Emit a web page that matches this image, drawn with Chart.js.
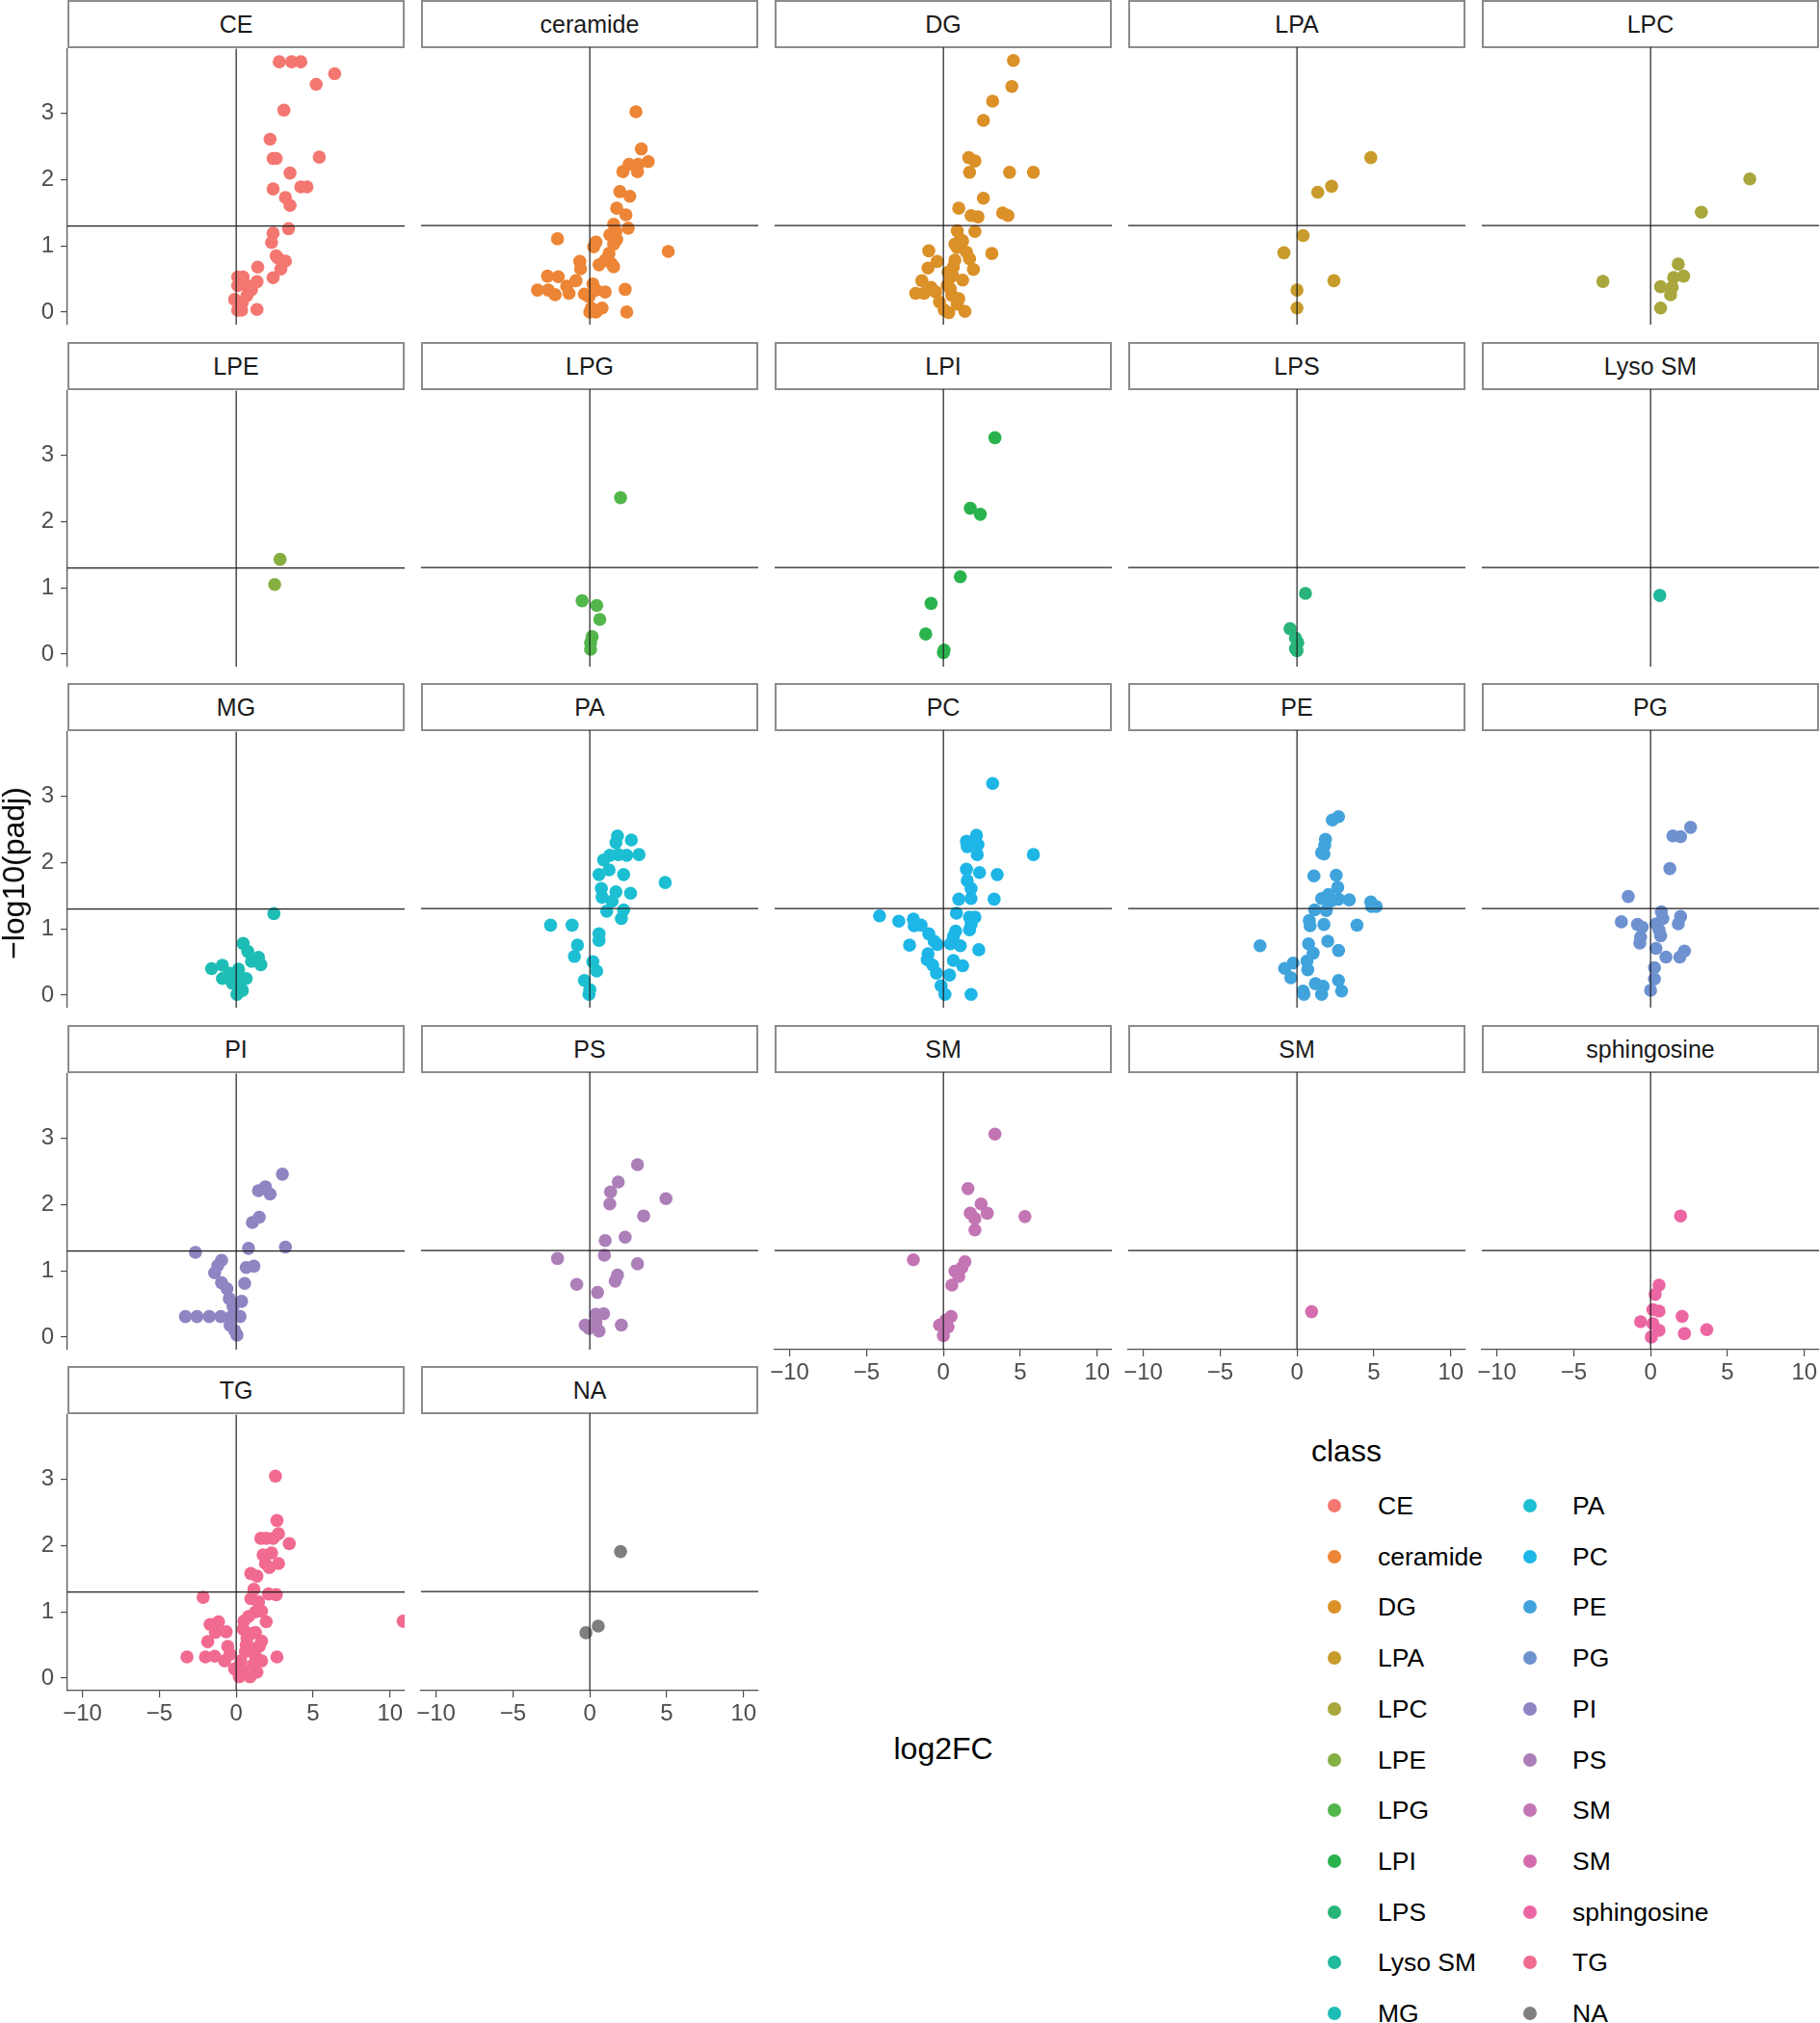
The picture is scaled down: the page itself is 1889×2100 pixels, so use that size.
<!DOCTYPE html>
<html>
<head>
<meta charset="utf-8">
<script src="https://cdn.jsdelivr.net/npm/chart.js@4.4.0/dist/chart.umd.min.js"></script>
<style>
  body { margin: 0; background: #fff; width: 1889px; height: 2100px; position: relative; overflow: hidden;
         font-family: "Liberation Sans", Arial, Helvetica, sans-serif; }
  canvas { position: absolute; }
  .strip { position: absolute; box-sizing: border-box; border: 2px solid #8c8c8c; background: #fff;
           display: flex; align-items: center; justify-content: center; font-size: 25px; color: #1a1a1a; }
  .title { position: absolute; font-size: 32px; color: #000; white-space: nowrap; }
  .lg-dot { position: absolute; width: 14px; height: 14px; border-radius: 50%; }
  .lg-txt { position: absolute; font-size: 26.5px; color: #000; white-space: nowrap; line-height: 30px; }
</style>
</head>
<body>
<script>
// facet / legend categories (order of the factor levels)
const classes = ['CE', 'ceramide', 'DG', 'LPA', 'LPC', 'LPE', 'LPG', 'LPI', 'LPS', 'Lyso SM', 'MG',
                 'PA', 'PC', 'PE', 'PG', 'PI', 'PS', 'SM', 'SM ', 'sphingosine', 'TG', 'NA'];
const classColors = ['#F37770', '#EC8535', '#DB9028', '#C89B2C', '#A8A63C', '#86AF42', '#52B64A', '#2AB34D',
                     '#29B57A', '#21B99C', '#1DBDB5', '#1CBFD2', '#1DB6E6', '#41A3DC', '#6E91CF', '#8D86C2',
                     '#AC7FB9', '#C275B2', '#D56CAE', '#EC66A3', '#F16A90', '#7F7F7F'];
const xTicks = [-10, -5, 0, 5, 10];
const yTicks = [0, 1, 2, 3];
const padjLine = 1.3;   // -log10(0.05)

// [log2FC, -log10(padj)] per class
const ptsCE = [[2.8,3.78],[3.6,3.78],[4.2,3.78],[6.4,3.6],[5.2,3.44],[3.1,3.05],[2.2,2.61],[2.4,2.32],[2.6,2.32],[5.4,2.34],
  [3.5,2.1],[2.4,1.86],[4.2,1.89],[4.6,1.89],[3.2,1.73],[3.5,1.61],[3.4,1.26],[2.4,1.19],[2.3,1.05],[2.6,0.85],[3.2,0.77],
  [2.9,0.65],[1.4,0.68],[2.4,0.52],[1.35,0.46],[0.1,0.53],[0.45,0.53],[0.1,0.4],[0.7,0.4],[1.0,0.34],[0.7,0.25],[-0.1,0.19],
  [0.4,0.15],[0.1,0.03],[0.35,0.03],[1.35,0.04],[0.2,0.1],[2.7,0.82]];
const ptsCeramide = [[3.0,3.01],[3.35,2.45],[2.55,2.22],[3.15,2.22],[3.8,2.26],[2.15,2.11],[3.1,2.11],[1.95,1.81],[2.6,1.74],
  [1.75,1.56],[2.35,1.46],[1.55,1.32],[2.5,1.26],[1.7,1.21],[1.3,1.16],[1.75,1.09],[-2.1,1.1],[0.4,1.05],[0.25,0.98],[1.55,1.02],
  [5.1,0.91],[1.25,0.88],[1.0,0.78],[1.4,0.73],[-0.65,0.76],[-0.6,0.65],[0.6,0.71],[1.55,0.68],[-2.75,0.54],[-2.05,0.53],
  [-3.4,0.33],[-2.7,0.33],[-2.25,0.26],[-1.5,0.39],[-1.35,0.28],[-0.9,0.47],[-0.35,0.27],[0.2,0.42],[0.4,0.33],[1.0,0.3],
  [2.3,0.34],[-0.05,0.23],[0.1,0.06],[0.8,0.06],[0.4,0.0],[2.4,0.0],[0.0,0.0]];
const ptsDG = [[4.55,3.78],[4.45,3.39],[3.2,3.17],[2.6,2.88],[1.65,2.32],[2.05,2.27],[1.7,2.1],[4.3,2.1],[5.85,2.1],[2.6,1.71],
  [1.0,1.56],[1.8,1.45],[2.25,1.43],[3.85,1.49],[4.2,1.45],[0.9,1.22],[2.05,1.21],[1.25,1.07],[0.9,0.97],[1.5,0.9],[3.15,0.88],
  [-0.95,0.92],[-0.4,0.76],[-1.0,0.66],[0.75,0.78],[1.7,0.8],[1.95,0.64],[1.25,0.48],[0.45,0.52],[-1.4,0.47],[-0.8,0.37],
  [-1.8,0.28],[-1.25,0.28],[-0.5,0.3],[0.45,0.35],[1.0,0.2],[-0.25,0.15],[0.05,0.03],[0.35,-0.01],[1.4,0.01],[0.65,0.68],
  [0.75,1.02],[1.1,1.09],[0.25,0.4],[0.55,0.25],[0.3,0.6],[0.6,0.55],[0.9,0.12]];
const ptsLPA = [[4.8,2.32],[2.25,1.89],[1.35,1.8],[0.4,1.15],[-0.85,0.89],[2.4,0.47],[0.0,0.33],[0.0,0.06]];
const ptsLPC = [[6.45,2.0],[3.3,1.5],[1.8,0.72],[2.15,0.54],[1.5,0.52],[-3.1,0.46],[0.65,0.38],[1.4,0.37],[1.3,0.26],[0.65,0.06]];
const ptsLPE = [[2.85,1.43],[2.5,1.05]];
const ptsLPG = [[2.0,2.35],[-0.5,0.8],[0.45,0.73],[0.65,0.52],[0.15,0.26],[0.05,0.17],[0.05,0.07]];
const ptsLPI = [[3.35,3.25],[1.75,2.19],[2.4,2.1],[1.1,1.16],[-0.8,0.76],[-1.15,0.3],[0.05,0.06],[0.0,0.02]];
const ptsLPS = [[0.55,0.91],[-0.45,0.38],[-0.1,0.24],[0.05,0.17],[-0.1,0.08],[0.0,0.05]];
const ptsLysoSM = [[0.6,0.88]];
const ptsMG = [[2.45,1.23],[0.45,0.78],[0.75,0.66],[1.45,0.57],[1.0,0.51],[1.6,0.46],[-1.6,0.4],[-0.9,0.45],[-0.9,0.25],
  [-0.55,0.28],[0.15,0.39],[0.65,0.25],[0.0,0.23],[0.2,0.14],[0.4,0.07],[0.05,0.01],[-0.25,0.18],[-0.4,0.33]];
const ptsPA = [[1.8,2.39],[1.7,2.29],[2.7,2.33],[1.3,2.1],[1.85,2.11],[2.4,2.1],[3.2,2.11],[0.9,2.03],[1.25,1.88],[0.6,1.81],
  [2.2,1.81],[4.9,1.69],[0.75,1.6],[1.7,1.55],[2.65,1.53],[0.8,1.47],[1.45,1.41],[1.1,1.26],[2.2,1.28],[2.05,1.15],
  [-2.55,1.05],[-1.15,1.05],[0.6,0.92],[0.6,0.82],[-0.8,0.75],[-1.0,0.58],[0.2,0.5],[0.45,0.36],[-0.35,0.22],[0.0,0.08],[-0.05,0.01]];
const ptsPC = [[3.2,3.18],[5.85,2.11],[2.15,2.4],[1.5,2.31],[2.25,2.26],[1.55,2.23],[2.2,2.11],[1.5,1.89],[2.35,1.84],[3.5,1.81],
  [1.55,1.72],[1.8,1.6],[1.0,1.44],[1.8,1.45],[3.3,1.44],[0.85,1.23],[1.7,1.17],[2.05,1.17],[1.8,1.06],[1.7,0.98],[-4.15,1.19],
  [-2.9,1.11],[-1.95,1.14],[-1.9,1.04],[-1.45,1.05],[-0.95,0.92],[-0.6,0.81],[-0.4,0.76],[-2.2,0.75],[0.8,0.96],[0.65,0.88],
  [0.45,0.77],[1.1,0.74],[2.3,0.68],[-1.0,0.62],[-1.05,0.53],[-0.7,0.45],[-0.45,0.33],[0.65,0.52],[1.25,0.44],[0.4,0.3],
  [-0.15,0.14],[0.1,0.01],[1.8,0.01]];
const ptsPE = [[2.7,2.68],[2.3,2.63],[1.85,2.34],[1.8,2.25],[1.6,2.14],[1.75,2.12],[1.1,1.79],[2.55,1.8],[2.65,1.62],[1.6,1.45],
  [2.05,1.51],[2.7,1.44],[3.4,1.43],[2.2,1.41],[4.8,1.4],[4.85,1.33],[5.15,1.33],[1.15,1.28],[1.9,1.27],[0.8,1.12],[0.85,1.04],
  [1.75,1.06],[3.9,1.05],[2.0,0.81],[-2.4,0.74],[0.75,0.77],[1.05,0.63],[2.7,0.67],[-0.25,0.48],[0.65,0.51],[-0.8,0.4],
  [0.7,0.38],[-0.4,0.26],[1.2,0.17],[1.7,0.13],[2.7,0.22],[2.9,0.06],[0.4,0.06],[1.6,0.01],[0.45,0.01]];
const ptsPG = [[2.6,2.52],[1.45,2.39],[1.95,2.38],[1.25,1.9],[-1.45,1.48],[0.7,1.25],[1.95,1.18],[0.8,1.15],[-1.9,1.1],
  [-0.85,1.06],[-0.55,1.02],[1.8,1.07],[0.35,1.07],[0.55,0.98],[-0.65,0.87],[0.65,0.89],[-0.7,0.78],[0.35,0.7],[2.2,0.66],
  [1.9,0.57],[1.0,0.57],[0.25,0.41],[0.25,0.24],[0.0,0.07]];
const ptsPI = [[3.0,2.46],[1.45,2.21],[1.9,2.27],[2.2,2.16],[1.05,1.73],[1.5,1.81],[0.8,1.34],[3.2,1.36],[-2.65,1.28],
  [-0.95,1.16],[-1.2,1.08],[-1.4,0.97],[0.65,1.05],[1.15,1.07],[0.55,0.81],[-0.95,0.82],[-0.6,0.73],[-0.45,0.58],[0.35,0.54],
  [-0.2,0.46],[-3.3,0.31],[-2.55,0.31],[-1.75,0.31],[-1.0,0.31],[-0.3,0.31],[0.25,0.31],[-0.4,0.18],[0.05,0.03],[-0.1,0.1]];
const ptsPS = [[3.1,2.59],[1.85,2.33],[1.35,2.18],[4.95,2.08],[1.3,2.0],[3.5,1.82],[2.3,1.5],[1.0,1.45],[0.95,1.23],[-2.1,1.18],
  [3.1,1.1],[1.8,0.93],[1.65,0.84],[-0.85,0.79],[0.5,0.67],[0.9,0.35],[0.4,0.34],[0.4,0.22],[-0.3,0.18],[-0.05,0.13],[0.6,0.09],[2.05,0.18]];
const ptsSM = [[3.35,3.05],[1.6,2.23],[2.45,2.0],[1.75,1.86],[2.85,1.86],[2.05,1.78],[5.3,1.81],[2.05,1.61],[-1.95,1.16],
  [1.4,1.13],[1.2,1.04],[0.75,0.99],[1.0,0.91],[0.55,0.78],[0.5,0.31],[-0.25,0.18],[0.3,0.15],[0.0,0.02],[0.15,0.25]];
const ptsSM2 = [[0.95,0.38]];
const ptsSphingosine = [[1.95,1.82],[0.55,0.78],[0.3,0.64],[0.15,0.41],[0.55,0.39],[2.05,0.31],[-0.65,0.23],[0.15,0.2],
  [0.55,0.1],[2.2,0.05],[3.65,0.11],[0.05,0.0]];
const ptsTG = [[2.55,3.05],[2.65,2.38],[2.75,2.18],[1.6,2.11],[1.95,2.11],[2.4,2.11],[3.45,2.03],[1.75,1.86],[2.3,1.89],
  [1.9,1.73],[2.75,1.73],[2.15,1.67],[0.95,1.58],[1.35,1.54],[1.15,1.34],[2.1,1.27],[2.6,1.26],[-2.15,1.22],[0.95,1.2],
  [1.45,1.15],[1.25,1.0],[1.65,1.01],[0.5,0.86],[1.95,0.85],[10.85,0.86],[-1.7,0.81],[-1.15,0.85],[-1.35,0.69],[-0.65,0.7],
  [0.45,0.74],[0.95,0.67],[-1.85,0.55],[1.65,0.56],[-0.55,0.48],[0.65,0.5],[-3.2,0.32],[-2.0,0.32],[-1.4,0.33],[2.65,0.32],
  [-0.75,0.26],[0.3,0.26],[1.25,0.33],[1.65,0.26],[-0.1,0.14],[1.35,0.09],[0.2,0.02],[0.9,0.02],[0.6,0.4],[1.25,0.69],
  [0.8,0.93],[1.5,0.48],[-0.4,0.36],[0.4,0.12],[1.0,0.45],[0.7,0.6],[1.1,0.2]];
const ptsNA = [[2.0,1.9],[0.55,0.78],[-0.25,0.68]];

const classPoints = [ptsCE, ptsCeramide, ptsDG, ptsLPA, ptsLPC, ptsLPE, ptsLPG, ptsLPI, ptsLPS, ptsLysoSM, ptsMG,
                     ptsPA, ptsPC, ptsPE, ptsPG, ptsPI, ptsPS, ptsSM, ptsSM2, ptsSphingosine, ptsTG, ptsNA];

// page geometry
const PW = 350, PH = 288, ML = 70, MT = 20, MR = 20, MB = 60;
const colLeft = c => 70 + 367 * c;
const rowTop = r => Math.round(49 + 354.5 * r);
const fmt = v => v < 0 ? '\u2212' + Math.abs(v) : String(v);
const axisGray = '#4d4d4d';
const tickFont = { family: '"Liberation Sans", Arial, sans-serif', size: 24 };

const refLines = {
  id: 'refLines',
  afterDatasetsDraw(chart) {
    const { ctx, chartArea: a, scales: { x, y } } = chart;
    ctx.save();
    ctx.strokeStyle = '#1f1f1f';
    ctx.lineWidth = 1.2;
    const x0 = x.getPixelForValue(0), y0 = y.getPixelForValue(padjLine);
    ctx.beginPath();
    ctx.moveTo(x0, a.top); ctx.lineTo(x0, a.bottom);
    ctx.moveTo(a.left, y0); ctx.lineTo(a.right, y0);
    ctx.stroke();
    ctx.restore();
  }
};

classes.forEach((name, i) => {
  const r = Math.floor(i / 5), c = i % 5;
  const showY = c === 0;
  const showX = (r === 3 && c >= 2) || r === 4;

  const strip = document.createElement('div');
  strip.className = 'strip';
  strip.textContent = name.trim();
  Object.assign(strip.style, { left: colLeft(c) + 'px', top: (rowTop(r) - 49) + 'px', width: PW + 'px', height: '50px' });
  document.body.appendChild(strip);

  const cv = document.createElement('canvas');
  cv.width = ML + PW + MR; cv.height = MT + PH + MB;
  Object.assign(cv.style, { left: (colLeft(c) - ML) + 'px', top: (rowTop(r) - MT) + 'px',
                            width: cv.width + 'px', height: cv.height + 'px' });
  document.body.appendChild(cv);

  new Chart(cv, {
    type: 'scatter',
    data: {
      datasets: [{
        data: classPoints[i].map(p => ({ x: p[0], y: p[1] })),
        backgroundColor: classColors[i],
        borderWidth: 0,
        pointRadius: 6.8
      }]
    },
    options: {
      responsive: false,
      animation: false,
      devicePixelRatio: 1,
      events: [],
      layout: { padding: { top: MT, right: MR, left: showY ? 0 : ML, bottom: showX ? 0 : MB } },
      plugins: { legend: { display: false }, tooltip: { enabled: false } },
      scales: {
        x: {
          type: 'linear', min: -10.97, max: 10.95, display: showX,
          afterBuildTicks: ax => { ax.ticks = xTicks.map(v => ({ value: v })); },
          afterFit: ax => { if (showX) ax.height = MB; },
          grid: { drawOnChartArea: false, tickLength: 7, color: axisGray, lineWidth: 1.2 },
          border: { display: true, color: axisGray, width: 1.2 },
          ticks: { font: tickFont, color: axisGray, padding: 3, maxRotation: 0, autoSkip: false, callback: fmt }
        },
        y: {
          type: 'linear', min: -0.19, max: 3.98, display: showY,
          afterBuildTicks: ax => { ax.ticks = yTicks.map(v => ({ value: v })); },
          afterFit: ax => { if (showY) ax.width = ML; },
          grid: { drawOnChartArea: false, tickLength: 7, color: axisGray, lineWidth: 1.2 },
          border: { display: true, color: axisGray, width: 1.2 },
          ticks: { font: tickFont, color: axisGray, padding: 7, autoSkip: false, callback: fmt }
        }
      }
    },
    plugins: [refLines]
  });
});

// axis titles
const xt = document.createElement('div');
xt.className = 'title';
xt.textContent = 'log2FC';
document.body.appendChild(xt);
xt.style.left = (979 - xt.offsetWidth / 2) + 'px';
xt.style.top = (1815 - xt.offsetHeight / 2) + 'px';

const yt = document.createElement('div');
yt.className = 'title';
yt.textContent = '\u2212log10(padj)';
document.body.appendChild(yt);
yt.style.left = (14 - yt.offsetWidth / 2) + 'px';
yt.style.top = (906 - yt.offsetHeight / 2) + 'px';
yt.style.transform = 'rotate(-90deg)';

// legend
const lt = document.createElement('div');
lt.className = 'title';
lt.textContent = 'class';
document.body.appendChild(lt);
lt.style.left = '1361px';
lt.style.top = (1506 - lt.offsetHeight / 2) + 'px';

classes.forEach((name, i) => {
  const col = Math.floor(i / 11), k = i % 11;
  const cy = 1563 + k * 52.7;
  const dot = document.createElement('div');
  dot.className = 'lg-dot';
  Object.assign(dot.style, { background: classColors[i], left: ((col ? 1588 : 1385) - 7) + 'px', top: (cy - 7) + 'px' });
  document.body.appendChild(dot);
  const t = document.createElement('div');
  t.className = 'lg-txt';
  t.textContent = name.trim();
  Object.assign(t.style, { left: (col ? 1632 : 1430) + 'px', top: (cy - 15) + 'px' });
  document.body.appendChild(t);
});
</script>
</body>
</html>
